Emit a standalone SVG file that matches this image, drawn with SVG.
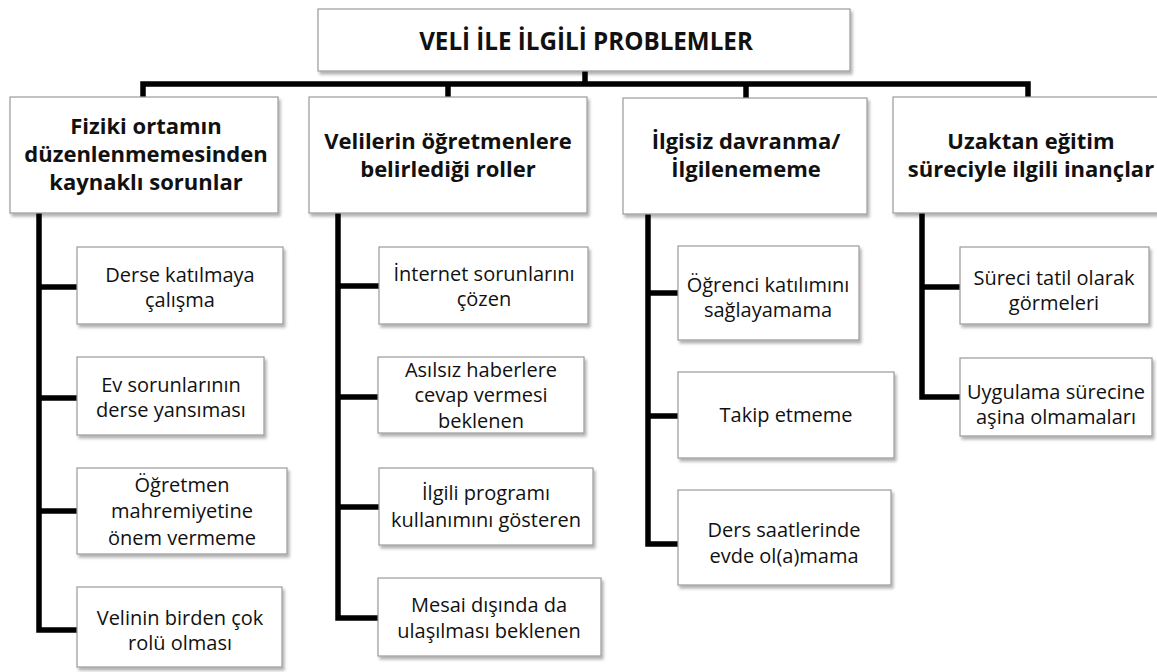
<svg xmlns="http://www.w3.org/2000/svg" width="1157" height="672" viewBox="0 0 1157 672">
<defs>
<filter id="sh" x="-10%" y="-10%" width="130%" height="140%">
<feDropShadow dx="2" dy="3" stdDeviation="1.8" flood-color="#000" flood-opacity="0.3"/>
</filter>
<style>
.box{fill:#fff;stroke:#9a9a9a;stroke-width:1.2;filter:url(#sh)}
.h{font-family:"Open Sans","Liberation Sans",sans-serif;font-weight:700;font-size:22px;fill:#111;text-anchor:middle}
.t{font-family:"Open Sans","Liberation Sans",sans-serif;font-size:20px;fill:#111;text-anchor:middle}
.root{font-family:"Open Sans","Liberation Sans",sans-serif;font-weight:700;font-size:24.2px;fill:#111;text-anchor:middle}
.c{fill:none;stroke:#000;stroke-width:5.5;stroke-linejoin:miter;stroke-linecap:butt}
</style>
</defs>
<rect width="1157" height="672" fill="#fff"/>
<g id="connectors">
<path class="c" d="M585,71 V84"/>
<path class="c" d="M143,97 V84 H1028 V97"/>
<path class="c" d="M448,84 V97 M746,84 V98"/>
<path class="c" d="M39,213 V630 H77 M39,287 H77 M39,398 H77 M39,511 H77"/>
<path class="c" d="M338,213 V618 H378 M338,286 H379 M338,397 H378 M338,507 H379"/>
<path class="c" d="M648,214 V544 H678 M648,293 H678 M648,416 H678"/>
<path class="c" d="M922,213 V397 H960 M922,287 H960"/>
</g>
<g id="root">
<rect class="box" x="318" y="9" width="532" height="62"/>
<text class="root" x="586" y="50">VELİ İLE İLGİLİ PROBLEMLER</text>
</g>
<g id="h1">
<rect class="box" x="10" y="97" width="268" height="116"/>
<text class="h" x="146" y="134">Fiziki ortamın</text>
<text class="h" x="146" y="162">düzenlenmemesinden</text>
<text class="h" x="146" y="190">kaynaklı sorunlar</text>
</g>
<g id="h2">
<rect class="box" x="309" y="97" width="278" height="116"/>
<text class="h" x="448" y="149">Velilerin öğretmenlere</text>
<text class="h" x="448" y="177">belirlediği roller</text>
</g>
<g id="h3">
<rect class="box" x="623" y="98" width="244" height="116"/>
<text class="h" x="746" y="149">İlgisiz davranma/</text>
<text class="h" x="746" y="177">İlgilenememe</text>
</g>
<g id="h4">
<rect class="box" x="893" y="97" width="278" height="116"/>
<text class="h" x="1031" y="149">Uzaktan eğitim</text>
<text class="h" x="1031" y="177">süreciyle ilgili inançlar</text>
</g>
<g id="n11">
<rect class="box" x="77" y="247" width="206" height="77"/>
<text class="t" x="180" y="282">Derse katılmaya</text>
<text class="t" x="180" y="307">çalışma</text>
</g>
<g id="n12">
<rect class="box" x="77" y="357" width="187" height="78"/>
<text class="t" x="171" y="392">Ev sorunlarının</text>
<text class="t" x="171" y="417">derse yansıması</text>
</g>
<g id="n13">
<rect class="box" x="77" y="468" width="210" height="86"/>
<text class="t" x="182" y="492">Öğretmen</text>
<text class="t" x="182" y="518">mahremiyetine</text>
<text class="t" x="182" y="545">önem vermeme</text>
</g>
<g id="n14">
<rect class="box" x="77" y="587" width="205" height="80"/>
<text class="t" x="180" y="625">Velinin birden çok</text>
<text class="t" x="180" y="650">rolü olması</text>
</g>
<g id="n21">
<rect class="box" x="379" y="247" width="209" height="77"/>
<text class="t" x="484" y="281">İnternet sorunlarını</text>
<text class="t" x="484" y="306">çözen</text>
</g>
<g id="n22">
<rect class="box" x="378" y="357" width="206" height="76"/>
<text class="t" x="481" y="377">Asılsız haberlere</text>
<text class="t" x="481" y="402">cevap vermesi</text>
<text class="t" x="481" y="428">beklenen</text>
</g>
<g id="n23">
<rect class="box" x="379" y="468" width="214" height="77"/>
<text class="t" x="486" y="500">İlgili programı</text>
<text class="t" x="486" y="527">kullanımını gösteren</text>
</g>
<g id="n24">
<rect class="box" x="378" y="578" width="223" height="78"/>
<text class="t" x="489" y="612">Mesai dışında da</text>
<text class="t" x="489" y="638">ulaşılması beklenen</text>
</g>
<g id="n31">
<rect class="box" x="678" y="246" width="181" height="94"/>
<text class="t" x="768" y="292">Öğrenci katılımını</text>
<text class="t" x="768" y="317">sağlayamama</text>
</g>
<g id="n32">
<rect class="box" x="678" y="372" width="216" height="86"/>
<text class="t" x="786" y="422">Takip etmeme</text>
</g>
<g id="n33">
<rect class="box" x="678" y="490" width="213" height="95"/>
<text class="t" x="784" y="537">Ders saatlerinde</text>
<text class="t" x="784" y="563">evde ol(a)mama</text>
</g>
<g id="n41">
<rect class="box" x="960" y="247" width="189" height="77"/>
<text class="t" x="1054" y="285">Süreci tatil olarak</text>
<text class="t" x="1054" y="310">görmeleri</text>
</g>
<g id="n42">
<rect class="box" x="960" y="358" width="192" height="78"/>
<text class="t" x="1056" y="399">Uygulama sürecine</text>
<text class="t" x="1056" y="424">aşina olmamaları</text>
</g>
</svg>
